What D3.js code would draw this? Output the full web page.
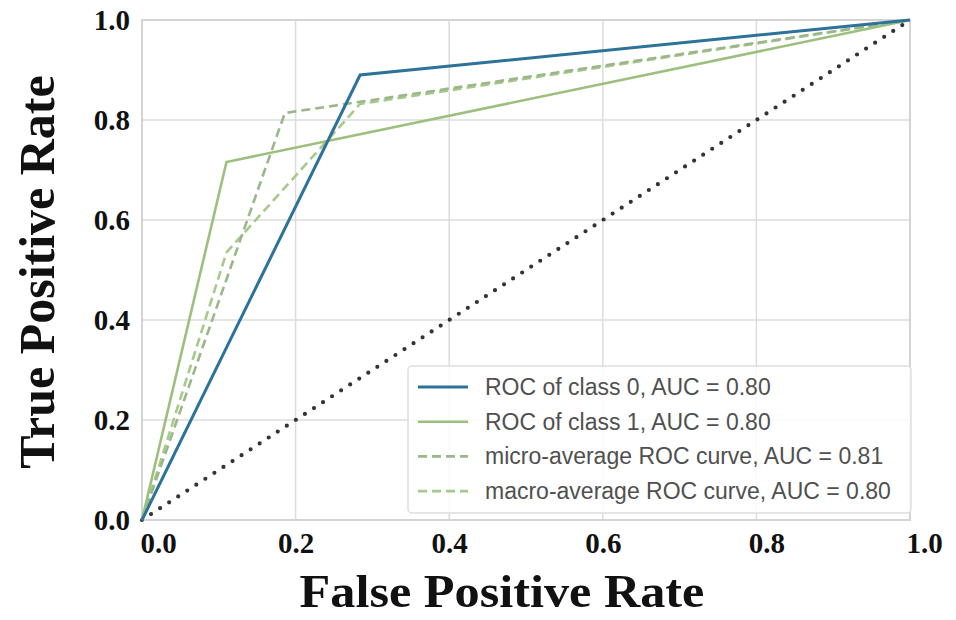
<!DOCTYPE html>
<html>
<head>
  <meta charset="utf-8">
  <title>ROC curves</title>
  <script src="https://cdnjs.cloudflare.com/ajax/libs/d3/7.8.5/d3.min.js"></script>
  <style>
    body { margin: 0; background: #fff; }
    .tick text { font-family: "Liberation Serif", "Times New Roman", serif; font-weight: bold; font-size: 29px; fill: #111; }
    .grid line { stroke: #dcdcdc; stroke-width: 1.5; }
    .title { font-family: "Liberation Serif", "Times New Roman", serif; font-weight: bold; font-size: 50px; fill: #111; }
    .legend text { font-family: "Liberation Sans", Arial, sans-serif; font-size: 23px; fill: #505050; }
  </style>
</head>
<body>
<div id="chart"></div>
<script>
  // ROC points
  var class0Fpr = [0, 0.284, 1];
  var class0Tpr = [0, 0.89, 1];
  var class1Fpr = [0, 0.11, 1];
  var class1Tpr = [0, 0.716, 1];
  var microFpr = [0, 0.186, 1];
  var microTpr = [0, 0.814, 1];
  var macroFpr = [0, 0.11, 0.284, 1];
  var macroTpr = [0, 0.535, 0.832, 1];
  var chanceLine = [0, 1];
  var ticks = [0, 0.2, 0.4, 0.6, 0.8, 1.0];
  var legendLabels = [
    "ROC of class 0, AUC = 0.80",
    "ROC of class 1, AUC = 0.80",
    "micro-average ROC curve, AUC = 0.81",
    "macro-average ROC curve, AUC = 0.80"
  ];

  var margin = {top: 20, right: 46, bottom: 100, left: 142},
      width = 956 - margin.left - margin.right,
      height = 620 - margin.top - margin.bottom;

  var svg = d3.select("#chart")
    .append("svg")
    .attr("width", 956)
    .attr("height", 620)
    .append("g")
    .attr("transform", "translate(" + margin.left + "," + margin.top + ")");

  var x = d3.scaleLinear().domain([0, 1]).range([0, width]);
  var y = d3.scaleLinear().domain([0, 1]).range([height, 0]);

  // grid
  svg.append("g").attr("class", "grid")
    .selectAll("line.v").data(ticks).enter().append("line")
    .attr("x1", d => x(d)).attr("x2", d => x(d))
    .attr("y1", 0).attr("y2", height);
  svg.append("g").attr("class", "grid")
    .selectAll("line.h").data(ticks).enter().append("line")
    .attr("y1", d => y(d)).attr("y2", d => y(d))
    .attr("x1", 0).attr("x2", width);

  svg.append("rect")
    .attr("width", width).attr("height", height)
    .attr("fill", "none").attr("stroke", "#d4d4d4").attr("stroke-width", 2);

  // axes
  var xAxis = svg.append("g")
    .attr("transform", "translate(0," + height + ")")
    .call(d3.axisBottom(x).tickValues(ticks).tickFormat(d3.format(".1f")).tickSize(0).tickPadding(12));
  xAxis.select(".domain").remove();
  xAxis.selectAll(".tick text")
    .attr("dy", "0.71em")
    .attr("dx", (d, i) => i == 0 ? 16 : (i == ticks.length - 1 ? 14 : (i == 4 ? 10 : 0)));

  var yAxis = svg.append("g")
    .call(d3.axisLeft(y).tickValues(ticks).tickFormat(d3.format(".1f")).tickSize(0).tickPadding(12));
  yAxis.select(".domain").remove();

  // titles
  svg.append("text").attr("class", "title")
    .style("font-size", "47px")
    .attr("text-anchor", "middle")
    .attr("transform", "translate(" + (502 - margin.left) + "," + (607 - margin.top) + ") scale(1.07,1)")
    .text("False Positive Rate");
  svg.append("text").attr("class", "title")
    .attr("text-anchor", "middle")
    .attr("transform", "translate(" + (54 - margin.left) + "," + (272 - margin.top) + ") rotate(-90)")
    .text("True Positive Rate");

  var line = d3.line().x(d => x(d[0])).y(d => y(d[1]));

  // chance diagonal
  svg.append("path")
    .datum(d3.zip(chanceLine, chanceLine))
    .attr("d", line)
    .attr("fill", "none")
    .attr("stroke", "#333")
    .attr("stroke-width", 4.2)
    .attr("stroke-linecap", "round")
    .attr("stroke-dasharray", "0,10.8");

  var series = [
    {fpr: macroFpr, tpr: macroTpr, color: "#a7c98a", dash: "9,5", w: 2.6},
    {fpr: microFpr, tpr: microTpr, color: "#9ab78a", dash: "9,5", w: 2.6},
    {fpr: class1Fpr, tpr: class1Tpr, color: "#9cbf7e", dash: null, w: 2.6},
    {fpr: class0Fpr, tpr: class0Tpr, color: "#2c7299", dash: null, w: 3}
  ];

  series.forEach(function (s) {
    svg.append("path")
      .datum(d3.zip(s.fpr, s.tpr))
      .attr("d", line)
      .attr("fill", "none")
      .attr("stroke", s.color)
      .attr("stroke-width", s.w)
      .attr("stroke-dasharray", s.dash);
  });

  // legend
  var legendStyles = [series[3], series[2], series[1], series[0]];
  var legend = svg.append("g").attr("class", "legend")
    .attr("transform", "translate(" + (408 - margin.left) + "," + (366 - margin.top) + ")");
  legend.append("rect")
    .attr("width", 503).attr("height", 147).attr("rx", 4)
    .attr("fill", "#fff").attr("fill-opacity", 0.85)
    .attr("stroke", "#dedede").attr("stroke-width", 1.5);
  var items = legend.selectAll("g.item").data(legendLabels).enter().append("g")
    .attr("transform", (d, i) => "translate(0," + (21 + i * 34.7) + ")");
  items.append("line")
    .attr("x1", 10).attr("x2", 60)
    .attr("stroke", (d, i) => legendStyles[i].color)
    .attr("stroke-width", (d, i) => legendStyles[i].w)
    .attr("stroke-dasharray", (d, i) => legendStyles[i].dash);
  items.append("text")
    .attr("x", 77)
    .attr("dy", "0.35em")
    .text(d => d);
</script>
</body>
</html>
